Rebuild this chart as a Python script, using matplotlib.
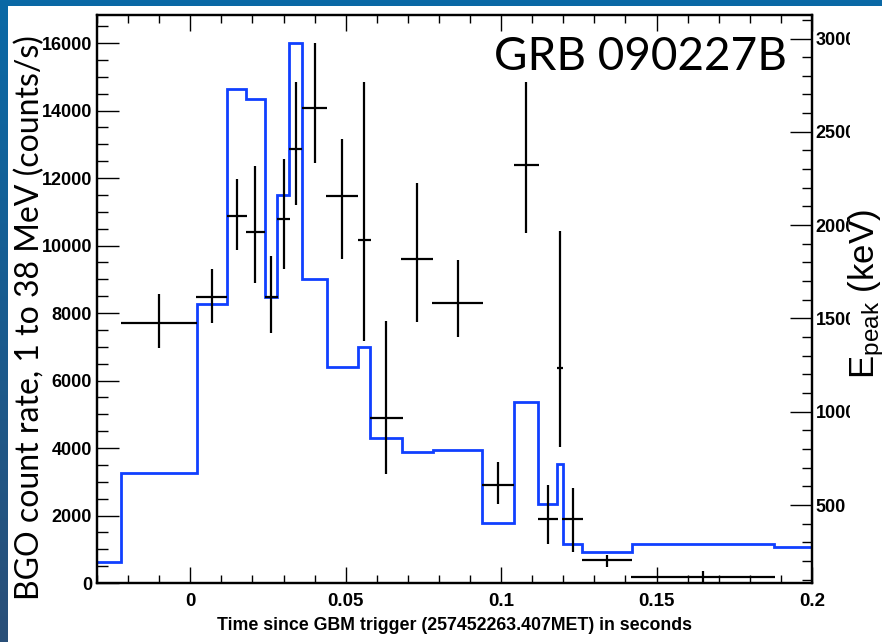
import matplotlib
matplotlib.use('Agg')
import matplotlib.pyplot as plt
import numpy as np
from matplotlib.ticker import MultipleLocator
from matplotlib.colors import LinearSegmentedColormap
from matplotlib.patches import Rectangle
from matplotlib.transforms import Bbox

# BGO count rate histogram (blue, left axis)
bgo_edges = [-0.04, -0.0222, 0.0022, 0.0119, 0.0179, 0.0240, 0.0279, 0.0319,
             0.0359, 0.0439, 0.0539, 0.0579, 0.0681, 0.0782, 0.0940, 0.1040,
             0.1120, 0.1179, 0.1200, 0.1260, 0.1420, 0.1879, 0.2000, 0.21]
bgo_rate = [613, 3250, 8280, 14650, 14330, 8480, 11490, 16000, 9010, 6400,
            7000, 4285, 3890, 3940, 1770, 5370, 2330, 3515, 1146, 910, 1146,
            1066, 583]

# Epeak per time bin (black crosses, right axis)
ep_t_lo = [-0.0222, 0.0018, 0.0119, 0.0179, 0.0240, 0.0279, 0.0319, 0.0359,
           0.0437, 0.0539, 0.0579, 0.0678, 0.0779, 0.0940, 0.1040, 0.1118,
           0.1179, 0.1197, 0.1259, 0.1418]
ep_t_hi = [0.0022, 0.0119, 0.0182, 0.0240, 0.0281, 0.0322, 0.0361, 0.0441,
           0.0541, 0.0581, 0.0683, 0.0782, 0.0941, 0.1041, 0.1122, 0.1182,
           0.1200, 0.1263, 0.1422, 0.1881]
ep_val = [1477, 1613, 2050, 1961, 1616, 2031, 2406, 2626, 2158, 1918, 968,
          1817, 1584, 607, 2322, 425, 1236, 423, 205, 112]
ep_low = [1341, 1477, 1867, 1688, 1420, 1763, 2108, 2331, 1818, 1380, 666,
          1482, 1402, 504, 1956, 289, 812, 250, 169, 80]
ep_high = [1631, 1763, 2249, 2318, 1834, 2353, 2765, 2977, 2460, 2765, 1486,
           2227, 1813, 732, 2767, 607, 1968, 593, 232, 148]

x_ticks = [0, 0.05, 0.1, 0.15, 0.2]
x_tick_labels = ['0', '0.05', '0.1', '0.15', '0.2']

narrow = ['Liberation Sans Narrow', 'Liberation Sans', 'DejaVu Sans']
plt.rcParams['font.family'] = narrow
plt.rcParams['font.weight'] = 'bold'

W, H = 882, 642
fig = plt.figure(figsize=(W / 100, H / 100), dpi=100)

# slide background: blue frame at top / left, white page
bg = fig.add_axes([0, 0, 1, 1], zorder=-10)
grad = np.linspace(0, 1, 256).reshape(-1, 1)
cmap = LinearSegmentedColormap.from_list('frame', ['#0a69a6', '#2a4f78'])
bg.imshow(grad, aspect='auto', cmap=cmap, extent=[0, 1, 0, 1])
bg.add_patch(Rectangle((8 / W, 0), 1, 1 - 6 / H, color='white', lw=0))
bg.set_xlim(0, 1)
bg.set_ylim(0, 1)
bg.axis('off')

ax = fig.add_axes([97 / W, 59 / H, 715 / W, 568 / H])
ax.stairs(bgo_rate, bgo_edges, color='#1040ff', lw=2)
ax.set_xlim(-0.03, 0.2)
ax.set_ylim(0, 16830)

ax2 = ax.twinx()
t_lo = np.array(ep_t_lo)
t_hi = np.array(ep_t_hi)
val = np.array(ep_val)
ax2.errorbar((t_lo + t_hi) / 2, val, xerr=(t_hi - t_lo) / 2,
             yerr=[val - np.array(ep_low), np.array(ep_high) - val],
             fmt='none', ecolor='black', elinewidth=1.6, capsize=0)
ax2.set_ylim(82, 3126)

# ticks, ROOT style (inside)
ax.set_xticks(x_ticks, x_tick_labels)
ax.xaxis.set_minor_locator(MultipleLocator(0.01))
ax.yaxis.set_major_locator(MultipleLocator(2000))
ax.yaxis.set_minor_locator(MultipleLocator(500))
ax.tick_params(axis='both', which='both', direction='in', width=1)
ax.tick_params(axis='x', which='major', length=11.5, top=True, labelsize=13.5, pad=7)
ax.tick_params(axis='x', which='minor', length=6, top=True)
ax.tick_params(axis='y', which='major', length=16, right=False, labelsize=13, pad=3.5)
ax.tick_params(axis='y', which='minor', length=8, right=False)

ax2.yaxis.set_major_locator(MultipleLocator(500))
ax2.yaxis.set_minor_locator(MultipleLocator(100))
ax2.tick_params(axis='y', which='both', direction='in', width=1)
ax2.tick_params(axis='y', which='major', length=16, labelsize=13, pad=2.5)
ax2.tick_params(axis='y', which='minor', length=7.5)

for a in (ax, ax2):
    for s in a.spines.values():
        s.set_linewidth(1.6)

# right tick labels are cut where the Epeak label starts
clip = Bbox.from_extents(0, 0, 850, H)
for lab in ax2.get_yticklabels():
    lab.set_clip_box(clip)
    lab.set_clip_on(True)

ax.set_xlabel('Time since GBM trigger (257452263.407MET) in seconds',
              fontsize=12.8, fontweight='bold', labelpad=5)

fig.text(30 / W, 1 - 318 / H, 'BGO count rate, 1 to 38 MeV (counts/s)',
         rotation=90, ha='center', va='center', family=['Lato', 'DejaVu Sans'],
         weight='normal', fontsize=23)
fig.text(867 / W, 1 - 294 / H, r'$\mathregular{E_{peak}}$ (keV)',
         rotation=90, ha='center', va='center', family=['Liberation Sans', 'DejaVu Sans'],
         weight='normal', fontsize=25)
fig.text(494 / W, 1 - 70 / H, 'GRB 090227B', ha='left', va='baseline',
         family=['Lato', 'DejaVu Sans'], weight='normal', fontsize=33)

fig.savefig('out.png', dpi=100)
